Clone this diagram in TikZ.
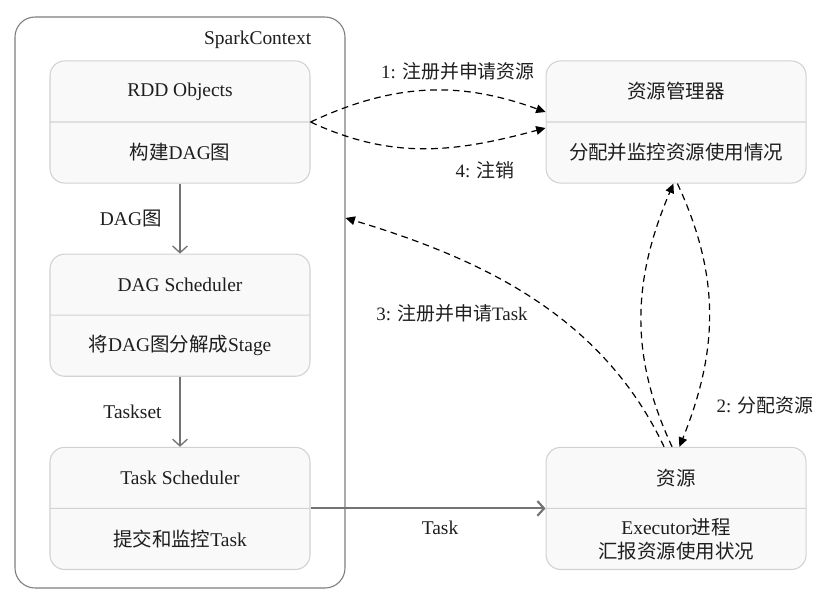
\documentclass[tikz,border=0pt]{standalone}
\usepackage{fontspec}
\setmainfont{Liberation Serif}
\newfontfamily\cjk{Noto Sans CJK SC}
\usepackage{tikz}
\usetikzlibrary{arrows.meta, positioning, shapes.multipart}
\definecolor{cBoxFill}{RGB}{249,249,249}
\definecolor{cBoxLine}{RGB}{210,210,210}
\definecolor{cFrame}{RGB}{125,125,125}
\definecolor{cArrow}{RGB}{115,115,115}
\definecolor{cText}{RGB}{30,30,30}
\newcommand{\zh}[1]{{\cjk #1}}
\newcommand{\twoparts}[2]{\parbox[c][45pt][c]{180pt}{\centering #1}\nodepart{two}\parbox[c][45pt][c]{180pt}{\centering #2}}
\tikzset{
	frame/.style    ={rectangle, draw=cFrame, fill=white, rounded corners=15pt, line width=0.8pt, minimum width=247.5pt, minimum height=428.25pt, inner sep=0pt},
	stage/.style    ={rectangle split, rectangle split parts=2, draw=cBoxLine, fill=cBoxFill, rounded corners=11pt, line width=0.8pt, inner xsep=4pt, inner ysep=0pt, minimum width=195pt},
	flow/.style     ={draw=cArrow, line width=1pt, -{Straight Barb[length=5pt, width=11pt]}},
	req/.style      ={draw=black, line width=0.9pt, dash pattern=on 5pt off 3.5pt, -{Triangle[length=7pt, width=6.5pt]}},
	lbl/.style      ={font=\fontsize{14.2}{17}\selectfont},
}
\begin{document}
\begin{tikzpicture}[x=0.75pt, y=-0.75pt, every node/.style={font=\fontsize{14.6}{18}\selectfont, text=cText}]
	\useasboundingbox (0,0) rectangle (820,615);
	% SparkContext frame
	\node[frame] (sc) at (180,302.5) {};
	\node[stage] (rdd) at (180,122) {\twoparts{RDD Objects}{\zh{构建}DAG\zh{图}}};
	\node[stage, below=52.5pt of rdd] (dag) {\twoparts{DAG Scheduler}{\zh{将}DAG\zh{图分解成}Stage}};
	\node[stage, below=52.5pt of dag] (tsk) {\twoparts{Task Scheduler}{\zh{提交和监控}Task}};
	\node[anchor=south east] (sctitle) at ([xshift=4pt, yshift=5pt]rdd.north east) {SparkContext};
	% cluster side
	\node[stage, right=176.25pt of rdd] (rm) {\twoparts{\zh{资源管理器}}{\zh{分配并监控资源使用情况}}};
	\node[stage, right=176.25pt of tsk] (res) {\twoparts{\zh{资源}}{Executor\zh{进程}\\\zh{汇报资源使用状况}}};
	\coordinate (scin) at ([yshift=63.4pt]sc.east);
	\draw[flow] (rdd) -- node[left=10pt] {DAG\zh{图}} (dag);
	\draw[flow] (dag) -- node[left=10pt] {Taskset} (tsk);
	\draw[flow, line width=1.6pt] (tsk) -- node[below=5pt, xshift=9pt] {Task} (res);
	\draw[req] (rdd.east) to[out=25, in=160] ([yshift=7.5pt]rm.west);
	\draw[req] (rdd.east) to[out=-25, in=195] ([yshift=-4.5pt]rm.west);
	\draw[req] ([xshift=-3pt]res.north) to[out=115, in=-113] ([xshift=-2pt]rm.south);
	\draw[req] ([xshift=1pt]rm.south) to[out=-65, in=68] ([xshift=2.5pt]res.north);
	\draw[req] ([xshift=-9pt]res.north) .. controls +(-63,-133) and +(133,40) .. (scin);
	\node[lbl] (l1) at (458,71) {1: \zh{注册并申请资源}};
	\node[lbl] (l4) at (485,170) {4: \zh{注销}};
	\node[lbl] (l3) at (452,313) {3: \zh{注册并申请}Task};
	\node[lbl] (l2) at (765,405) {2: \zh{分配资源}};
\end{tikzpicture}
\end{document}
